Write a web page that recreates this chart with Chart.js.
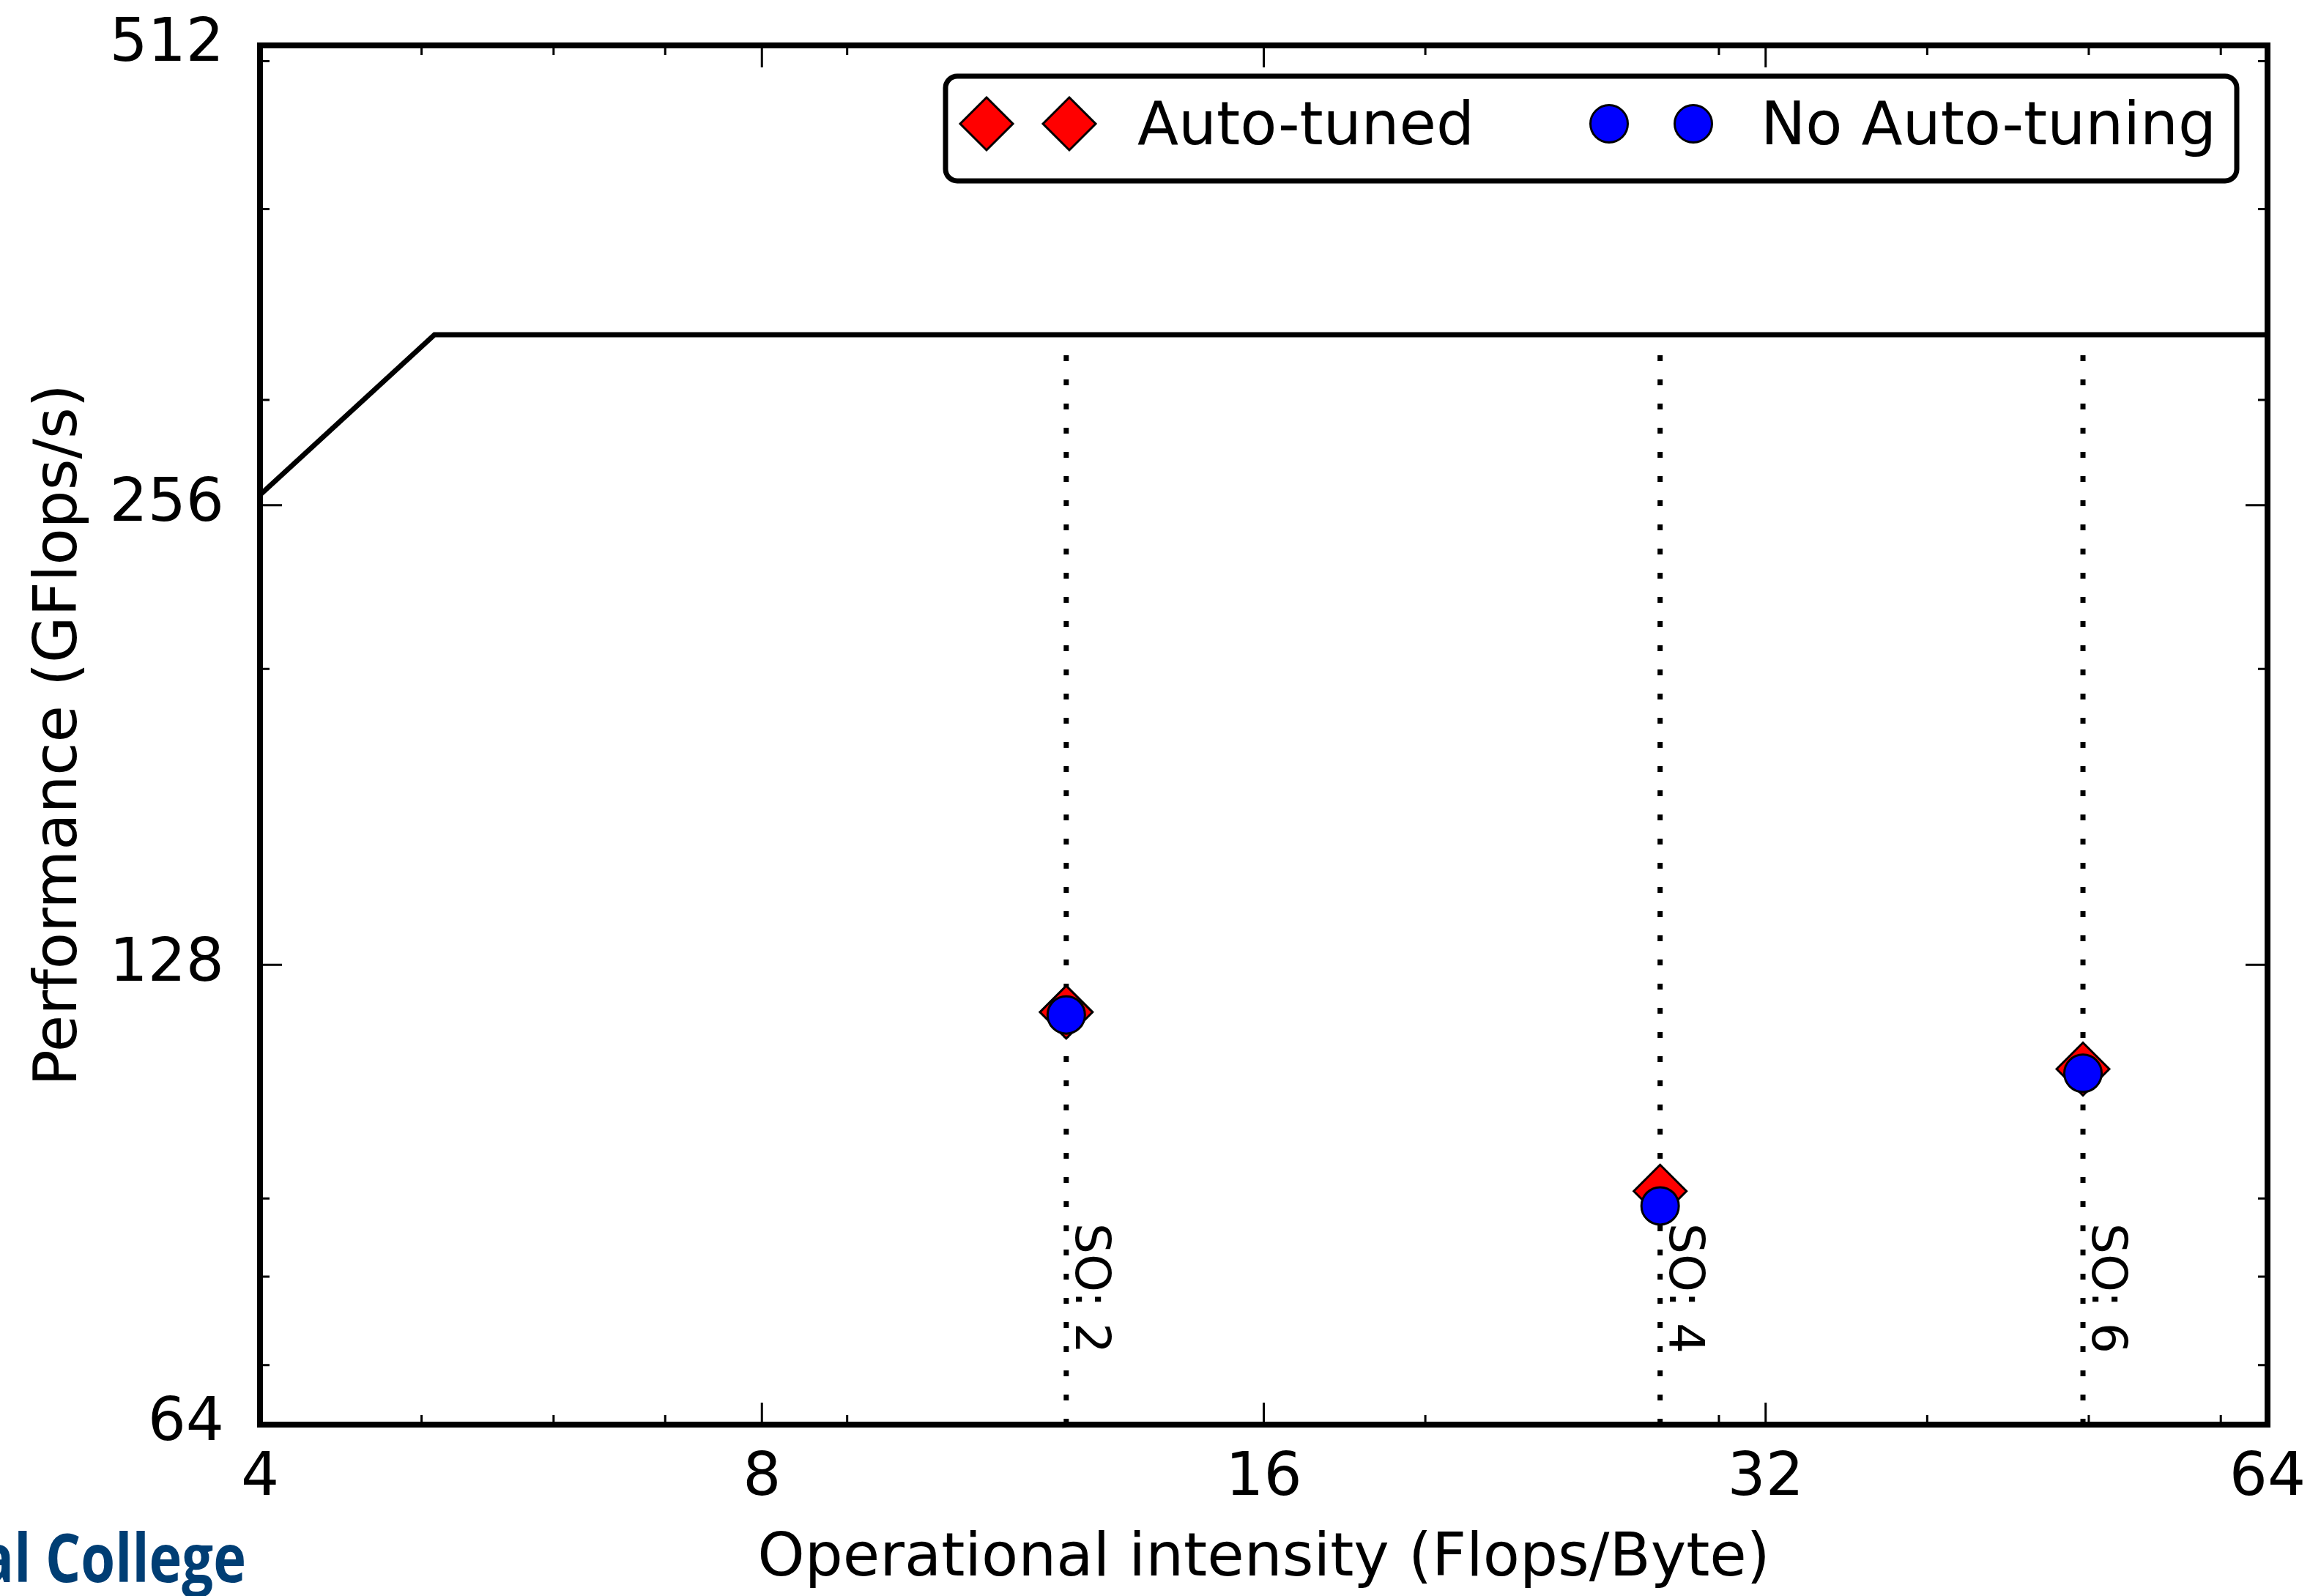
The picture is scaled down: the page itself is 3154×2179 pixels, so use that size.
<!DOCTYPE html>
<html>
<head>
<meta charset="utf-8">
<title>Roofline - auto-tuning</title>
<script src="https://cdn.jsdelivr.net/npm/chart.js@4/dist/chart.umd.min.js"></script>
<style>
    html, body { margin: 0; padding: 0; background: #fff; }
    #wrap { width: 3154px; height: 2179px; position: relative; }
</style>
</head>
<body>
<div id="wrap"><canvas id="roofChart"></canvas></div>
<script>
// Roofline (bandwidth slope then compute peak)
const rooflineX = [4, 5.09, 64];
const rooflineY = [260, 331, 331];
const peakPerf = 331;

// Measured kernels, one per space order
const spaceOrders = ['SO: 2', 'SO: 4', 'SO: 6'];
const intensity = [12.18, 27.66, 49.6];
const autoTuned = [119.2, 91.0, 109.4];
const noAutoTuning = [118.7, 89.0, 108.7];
const labelY = 86.7;

// Axis ticks
const xTicks = [4, 8, 16, 32, 64];
const xMinorTicks = [5, 6, 7, 9, 20, 30, 40, 50, 60];
const yTicks = [64, 128, 256, 512];
const yMinorTicks = [70, 80, 90, 200, 300, 400, 500];

const seriesNames = ['Auto-tuned', 'No Auto-tuning'];

const FONT = "'DejaVu Sans', sans-serif";
const RED = '#ff0000';
const BLUE = '#0000ff';

Chart.defaults.color = '#000';
Chart.defaults.font.family = FONT;

function drawDiamond(ctx, cx, cy, r) {
    ctx.beginPath();
    ctx.moveTo(cx, cy - r);
    ctx.lineTo(cx + r, cy);
    ctx.lineTo(cx, cy + r);
    ctx.lineTo(cx - r, cy);
    ctx.closePath();
    ctx.fillStyle = RED;
    ctx.fill();
    ctx.stroke();
}

function drawDot(ctx, cx, cy, r) {
    ctx.beginPath();
    ctx.arc(cx, cy, r, 0, Math.PI * 2);
    ctx.fillStyle = BLUE;
    ctx.fill();
    ctx.stroke();
}

// frame, inward ticks, SO labels, legend and logo fragment
const decorPlugin = {
    id: 'decor',
    afterDatasetsDraw(chart) {
        const { ctx, chartArea: a, scales: { x, y } } = chart;
        ctx.save();

        // SO labels along the dotted lines
        ctx.fillStyle = '#000';
        ctx.font = `66px ${FONT}`;
        ctx.textAlign = 'left';
        ctx.textBaseline = 'alphabetic';
        spaceOrders.forEach((label, i) => {
            ctx.save();
            ctx.translate(x.getPixelForValue(intensity[i]) + 13, y.getPixelForValue(labelY));
            ctx.rotate(Math.PI / 2);
            ctx.fillText(label, 0, 0);
            ctx.restore();
        });

        // ticks on all four sides, pointing in
        ctx.strokeStyle = '#000';
        ctx.lineWidth = 3;
        const xTick = (v, len) => {
            const px = x.getPixelForValue(v);
            ctx.beginPath();
            ctx.moveTo(px, a.bottom); ctx.lineTo(px, a.bottom - len);
            ctx.moveTo(px, a.top); ctx.lineTo(px, a.top + len);
            ctx.stroke();
        };
        const yTick = (v, len) => {
            const py = y.getPixelForValue(v);
            ctx.beginPath();
            ctx.moveTo(a.left, py); ctx.lineTo(a.left + len, py);
            ctx.moveTo(a.right, py); ctx.lineTo(a.right - len, py);
            ctx.stroke();
        };
        xTicks.forEach(v => xTick(v, 30));
        xMinorTicks.forEach(v => xTick(v, 13));
        yTicks.forEach(v => yTick(v, 30));
        yMinorTicks.forEach(v => yTick(v, 13));

        // axes frame
        ctx.lineWidth = 8;
        ctx.strokeRect(a.left, a.top, a.right - a.left, a.bottom - a.top);

        // legend box
        const lw = 1763, lh = 143;
        const lx = a.right - 42 - lw;
        const ly = a.top + 42;
        ctx.lineWidth = 7;
        ctx.fillStyle = '#fff';
        ctx.beginPath();
        ctx.roundRect(lx, ly, lw, lh, 16);
        ctx.fill();
        ctx.stroke();

        const my = ly + 65;
        ctx.lineWidth = 3;
        drawDiamond(ctx, lx + 56, my, 36);
        drawDiamond(ctx, lx + 169, my, 36);
        drawDot(ctx, lx + 906, my, 25.5);
        drawDot(ctx, lx + 1021, my, 25.5);

        ctx.fillStyle = '#000';
        ctx.font = `82px ${FONT}`;
        ctx.textBaseline = 'alphabetic';
        ctx.fillText(seriesNames[0], lx + 262, ly + 93);
        ctx.fillText(seriesNames[1], lx + 1113, ly + 93);

        // cropped logo text in the bottom-left corner
        ctx.font = "bold 91px 'Open Sans', sans-serif";
        ctx.fillStyle = '#003e74';
        const squeeze = 274 / ctx.measureText('College').width;
        ctx.translate(336, 2160);
        ctx.scale(squeeze, 1);
        ctx.textAlign = 'right';
        ctx.fillText('Imperial College', 0, 0);

        ctx.restore();
    }
};

const pts = (xs, ys) => xs.map((v, i) => ({ x: v, y: ys[i] }));

const dottedSets = intensity.map(v => ({
    data: [{ x: v, y: yTicks[0] }, { x: v, y: peakPerf }],
    showLine: true,
    borderColor: '#000',
    borderWidth: 7,
    borderDash: [8, 25],
    borderCapStyle: 'butt',
    pointRadius: 0,
    order: 3
}));

new Chart(document.getElementById('roofChart'), {
    type: 'scatter',
    data: {
        datasets: [
            {
                label: 'roofline',
                data: pts(rooflineX, rooflineY),
                showLine: true,
                borderColor: '#000',
                borderWidth: 7,
                pointRadius: 0,
                tension: 0,
                order: 4
            },
            ...dottedSets,
            {
                label: seriesNames[0],
                data: pts(intensity, autoTuned),
                pointStyle: 'rectRot',
                pointRadius: 36,
                backgroundColor: RED,
                borderColor: '#000',
                borderWidth: 3,
                order: 2
            },
            {
                label: seriesNames[1],
                data: pts(intensity, noAutoTuning),
                pointStyle: 'circle',
                pointRadius: 25.5,
                backgroundColor: BLUE,
                borderColor: '#000',
                borderWidth: 3,
                order: 1
            }
        ]
    },
    options: {
        responsive: true,
        maintainAspectRatio: false,
        animation: false,
        devicePixelRatio: 1,
        layout: {
            padding: { top: 62, right: 58, left: 0, bottom: 0 }
        },
        plugins: {
            legend: { display: false },
            tooltip: { enabled: false }
        },
        scales: {
            x: {
                type: 'logarithmic',
                min: 4,
                max: 64,
                afterBuildTicks: (scale) => {
                    scale.ticks = xTicks.map(v => ({ value: v }));
                },
                afterFit: (scale) => {
                    scale.height = 234;
                    scale.paddingLeft = 0;
                    scale.paddingRight = 0;
                },
                ticks: {
                    callback: (value) => String(value),
                    font: { size: 82 },
                    padding: 18,
                    maxRotation: 0,
                    autoSkip: false
                },
                grid: { display: false },
                border: { display: false },
                title: {
                    display: true,
                    text: 'Operational intensity (Flops/Byte)',
                    font: { size: 82 },
                    padding: { top: 0, bottom: 0 }
                }
            },
            y: {
                type: 'logarithmic',
                min: 64,
                max: 512,
                afterBuildTicks: (scale) => {
                    scale.ticks = yTicks.map(v => ({ value: v }));
                },
                afterFit: (scale) => {
                    scale.width = 355;
                    scale.paddingTop = 0;
                    scale.paddingBottom = 0;
                },
                ticks: {
                    callback: (value) => String(value),
                    font: { size: 82 },
                    padding: 41,
                    autoSkip: false
                },
                grid: { display: false },
                border: { display: false },
                title: {
                    display: true,
                    text: 'Performance (GFlops/s)',
                    font: { size: 82 },
                    padding: { top: 34, bottom: 0 }
                }
            }
        }
    },
    plugins: [decorPlugin]
});
</script>
</body>
</html>
